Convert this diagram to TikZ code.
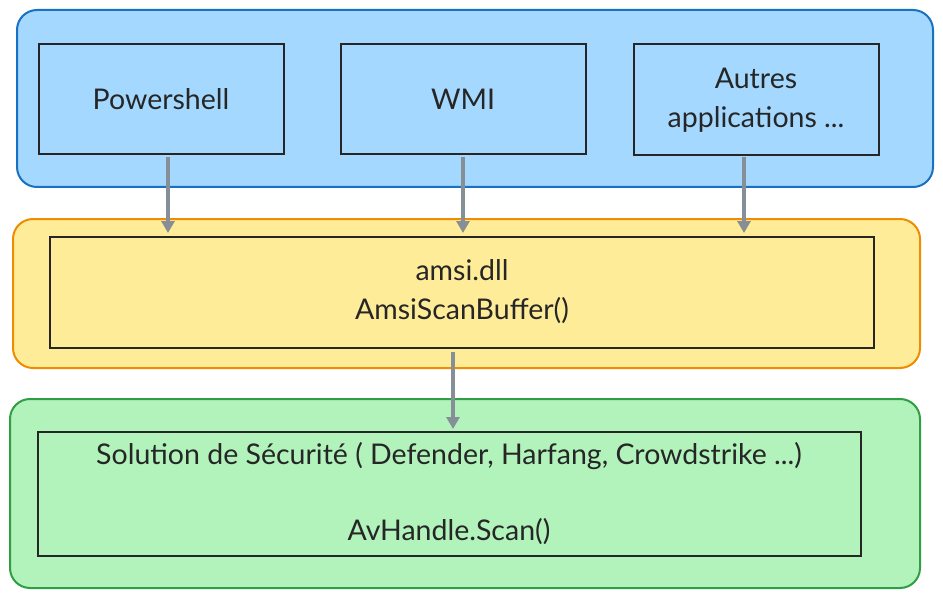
\documentclass[tikz,border=0pt]{standalone}
\usepackage{fontspec}
\setmainfont{Lato}
\usetikzlibrary{arrows.meta}
\definecolor{bfill}{HTML}{A5D8FF}\definecolor{bdraw}{HTML}{1971C2}
\definecolor{yfill}{HTML}{FFEC99}\definecolor{ydraw}{HTML}{F08C00}
\definecolor{gfill}{HTML}{B2F2BB}\definecolor{gdraw}{HTML}{2F9E44}
\definecolor{arr}{HTML}{868E96}
\begin{document}
\begin{tikzpicture}[x=1pt,y=-1pt,
 grp/.style={rounded corners=20pt,line width=2pt},
 box/.style={draw=black!85,line width=2pt},
 txt/.style={font=\fontsize{28.5}{39}\selectfont,align=center,text=black!85},
 ar/.style={draw=arr,line width=4pt,-{Triangle[length=12pt,width=13pt]}}]
\useasboundingbox (0,0) rectangle (943,599);
\draw[grp,fill=bfill,draw=bdraw] (17,10) rectangle (933,187);
\draw[grp,fill=yfill,draw=ydraw] (13,219) rectangle (920,368);
\draw[grp,fill=gfill,draw=gdraw] (10,399) rectangle (920,588);
\draw[box] (39,44) rectangle (284,154); \node[txt] (ps) at (161,99) {Powershell};
\draw[box] (341,44) rectangle (586,154); \node[txt] (wmi) at (463,99) {WMI};
\draw[box] (634,44) rectangle (879,155); \node[txt] (aut) at (756,100) {Autres\\applications ...};
\draw[box] (50,237) rectangle (874,348); \node[txt] (amsi) at (462,292) {amsi.dll\\AmsiScanBuffer()};
\draw[box] (38,432) rectangle (861,556);
\node[txt] (sol) at (449,456) {Solution de Sécurité ( Defender, Harfang, Crowdstrike ...)};
\node[txt] (av) at (449,532) {AvHandle.Scan()};
\coordinate (a1) at (168,157); \coordinate (b1) at (168,233);
\coordinate (a2) at (463,157); \coordinate (b2) at (463,233);
\coordinate (a3) at (744,157); \coordinate (b3) at (744,233);
\coordinate (a4) at (453,352); \coordinate (b4) at (453,429);
\draw[ar] (a1)--(b1); \draw[ar] (a2)--(b2); \draw[ar] (a3)--(b3); \draw[ar] (a4)--(b4);
\end{tikzpicture}
\end{document}
